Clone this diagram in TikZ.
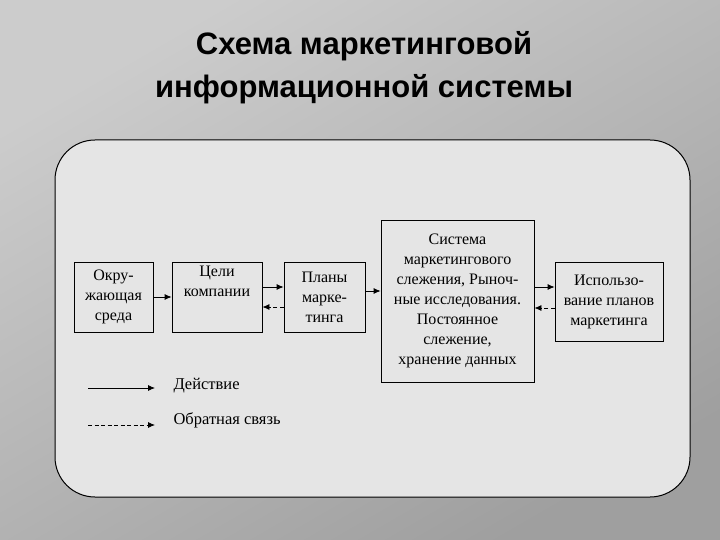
\documentclass[tikz,border=0pt]{standalone}
\usepackage{fontspec}
\setmainfont{Liberation Serif}
\newfontfamily\titlefont{Liberation Sans}
\usetikzlibrary{arrows.meta}
\begin{document}
\begin{tikzpicture}[x=1pt,y=-1pt,
  box/.style={draw,line width=0.8pt,align=center,inner sep=0pt,font=\fontsize{16}{20}\selectfont},
  act/.style={line width=0.8pt,-{Latex[length=7pt,width=6pt]}},
  fb/.style={act,dashed,dash pattern=on 4pt off 2.5pt}]
\shade[top color=gray!40,bottom color=gray!75,shading angle=30] (0,0) rectangle (720,540);
\useasboundingbox (0,0) rectangle (720,540);
\node[font=\titlefont\bfseries\fontsize{31}{43}\selectfont,align=center] (title) at (364,68) {Схема маркетинговой\\информационной системы};
\draw[line width=1pt,fill=gray!20,rounded corners=40pt] (55,140) rectangle (690,497);
\node[box,minimum width=79pt,minimum height=70pt] (a) at (113.5,297) {Окру-\\жающая\\среда};
\node[box,minimum width=90pt,minimum height=70pt] (b) at (217,297) {};
\node[align=center,inner sep=0pt,font=\fontsize{16}{20}\selectfont,anchor=north] (bt) at (217,266) {Цели\\компании};
\node[box,minimum width=81pt,minimum height=70pt] (c) at (324.5,297) {Планы\\марке-\\тинга};
\node[box,minimum width=153pt,minimum height=162pt] (d) at (457.5,301) {Система\\маркетингового\\слежения, Рыноч-\\ные исследования.\\Постоянное\\слежение,\\хранение данных};
\node[box,minimum width=108pt,minimum height=79pt] (e) at (609,301.5) {Использо-\\вание планов\\маркетинга};
\draw[act] (a.east|-0,297) -- (b.west|-0,297);
\draw[act] (b.east|-0,287) -- (c.west|-0,287);
\draw[fb] (c.west|-0,307) -- (b.east|-0,307);
\draw[act] (c.east|-0,291) -- (d.west|-0,291);
\draw[act] (d.east|-0,287) -- (e.west|-0,287);
\draw[fb] (e.west|-0,308) -- (d.east|-0,308);
\coordinate (l1a) at (88,388); \coordinate (l1b) at (155,388);
\coordinate (l2a) at (88,425); \coordinate (l2b) at (155,425);
\draw[act] (l1a) -- (l1b);
\draw[fb] (l2a) -- (l2b);
\node[anchor=west,font=\fontsize{16.5}{18}\selectfont] (t1) at (170,386) {Действие};
\node[anchor=west,font=\fontsize{16.5}{18}\selectfont] (t2) at (170,420) {Обратная связь};
\end{tikzpicture}
\end{document}
